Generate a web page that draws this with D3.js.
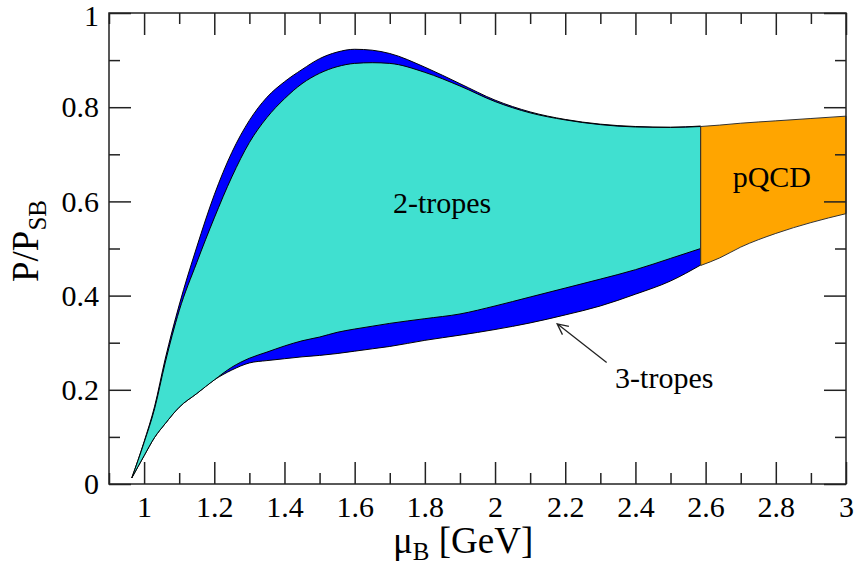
<!DOCTYPE html>
<html>
<head>
<meta charset="utf-8">
<script src="https://cdn.jsdelivr.net/npm/d3@7"></script>
<style>
  html, body { margin: 0; padding: 0; background: #fff; }
  svg text { font-family: "Liberation Serif", "Times New Roman", serif; fill: #000; }
</style>
</head>
<body>
<svg id="chart" width="859" height="564"></svg>
<script>
// Baryon chemical potential grid (GeV) shared by the polytrope bands
const muBand = [0.965, 1.0, 1.03, 1.06, 1.1, 1.15, 1.2, 1.25, 1.3, 1.35, 1.4, 1.45, 1.5, 1.55,
                1.6, 1.65, 1.7, 1.8, 1.9, 2.0, 2.1, 2.2, 2.3, 2.4, 2.5, 2.586];

// 3-tropes envelope, P/P_SB
const p3Upper = [0.013, 0.09, 0.165, 0.265, 0.38, 0.503, 0.614, 0.704, 0.772, 0.821, 0.854, 0.880, 0.903, 0.917,
                 0.923, 0.921, 0.914, 0.885, 0.850, 0.815, 0.790, 0.774, 0.764, 0.759, 0.7575, 0.760];
const p3Lower = [0.013, 0.060, 0.099, 0.128, 0.163, 0.192, 0.221, 0.242, 0.257, 0.262, 0.266, 0.270, 0.273, 0.277,
                 0.282, 0.287, 0.292, 0.305, 0.316, 0.328, 0.342, 0.359, 0.378, 0.403, 0.431, 0.465];

// 2-tropes envelope, P/P_SB
const p2Upper = [0.013, 0.088, 0.16, 0.257, 0.368, 0.47, 0.565, 0.652, 0.725, 0.778, 0.818, 0.850, 0.872, 0.886,
                 0.893, 0.8945, 0.893, 0.874, 0.845, 0.812, 0.788, 0.773, 0.763, 0.758, 0.757, 0.759];
const p2Lower = [0.013, 0.060, 0.099, 0.128, 0.163, 0.192, 0.221, 0.248, 0.267, 0.280, 0.293, 0.304, 0.312, 0.322,
                 0.329, 0.335, 0.341, 0.351, 0.361, 0.378, 0.397, 0.416, 0.435, 0.455, 0.479, 0.500];

// Perturbative QCD band
const muPqcd = [2.586, 2.64, 2.7, 2.8, 2.9, 3.0];
const pPqcdUpper = [0.759, 0.762, 0.766, 0.771, 0.776, 0.781];
const pPqcdLower = [0.464, 0.480, 0.503, 0.532, 0.555, 0.574];

// Axis ticks
const xMajorTicks = [1, 1.2, 1.4, 1.6, 1.8, 2, 2.2, 2.4, 2.6, 2.8, 3];
const xMinorTicks = [0.9, 1.1, 1.3, 1.5, 1.7, 1.9, 2.1, 2.3, 2.5, 2.7, 2.9];
const yMajorTicks = [0, 0.2, 0.4, 0.6, 0.8, 1];
const yMinorTicks = [0.1, 0.3, 0.5, 0.7, 0.9];

const W = 859, H = 564;
const margin = { left: 109, right: 13, top: 13, bottom: 80 };
const svg = d3.select("#chart");

const x = d3.scaleLinear().domain([0.9, 3]).range([margin.left, W - margin.right]);
const y = d3.scaleLinear().domain([0, 1]).range([H - margin.bottom, margin.top]);

// Filled bands
function band(mu, lo, hi) {
  const rows = mu.map((m, i) => ({ m, lo: lo[i], hi: hi[i] }));
  return d3.area()
    .x(d => x(d.m)).y0(d => y(d.lo)).y1(d => y(d.hi))
    .curve(d3.curveMonotoneX)(rows);
}

const bands = svg.append("g");
bands.append("path").attr("d", band(muBand, p3Lower, p3Upper))
  .attr("fill", "#0000ff").attr("stroke", "#000").attr("stroke-width", 1).attr("stroke-linejoin", "round");
bands.append("path").attr("d", band(muBand, p2Lower, p2Upper))
  .attr("fill", "#40e0d0").attr("stroke", "#000").attr("stroke-width", 1).attr("stroke-linejoin", "round");
bands.append("path").attr("d", band(muPqcd, pPqcdLower, pPqcdUpper))
  .attr("fill", "#ffa500").attr("stroke", "#333").attr("stroke-width", 1).attr("stroke-linejoin", "round");

// Frame with inward ticks on all four sides
const tickColor = "#222";
function styleAxis(g) {
  g.select(".domain").remove();
  g.selectAll(".tick line").attr("stroke", tickColor).attr("stroke-width", 1.5);
  g.selectAll("text").attr("font-size", 30).attr("font-family", "Liberation Serif");
}
const fmt = d => d3.format("~g")(d);

svg.append("g").attr("transform", `translate(0,${y(0)})`)
  .call(d3.axisBottom(x).tickValues(xMajorTicks).tickSize(-22).tickPadding(12).tickFormat(fmt)).call(styleAxis);
svg.append("g").attr("transform", `translate(0,${y(0)})`)
  .call(d3.axisBottom(x).tickValues(xMinorTicks).tickSize(-11).tickFormat("")).call(styleAxis);
svg.append("g").attr("transform", `translate(0,${y(1)})`)
  .call(d3.axisTop(x).tickValues(xMajorTicks).tickSize(-22).tickFormat("")).call(styleAxis);
svg.append("g").attr("transform", `translate(0,${y(1)})`)
  .call(d3.axisTop(x).tickValues(xMinorTicks).tickSize(-11).tickFormat("")).call(styleAxis);

const yAxisG = svg.append("g").attr("transform", `translate(${x(0.9)},0)`)
  .call(d3.axisLeft(y).tickValues(yMajorTicks).tickSize(-22).tickPadding(10).tickFormat(fmt)).call(styleAxis);
// keep the top label inside the canvas
yAxisG.selectAll(".tick").filter(d => d === 1).select("text").attr("y", 3);
svg.append("g").attr("transform", `translate(${x(0.9)},0)`)
  .call(d3.axisLeft(y).tickValues(yMinorTicks).tickSize(-11).tickFormat("")).call(styleAxis);
svg.append("g").attr("transform", `translate(${x(3)},0)`)
  .call(d3.axisRight(y).tickValues(yMajorTicks).tickSize(-22).tickFormat("")).call(styleAxis);
svg.append("g").attr("transform", `translate(${x(3)},0)`)
  .call(d3.axisRight(y).tickValues(yMinorTicks).tickSize(-11).tickFormat("")).call(styleAxis);

svg.append("rect")
  .attr("x", x(0.9)).attr("y", y(1))
  .attr("width", x(3) - x(0.9)).attr("height", y(0) - y(1))
  .attr("fill", "none").attr("stroke", tickColor).attr("stroke-width", 1.5);

// Region labels
svg.append("text").attr("x", x(1.709)).attr("y", y(0.576)).attr("font-size", 30).text("2-tropes");
svg.append("text").attr("x", x(2.677)).attr("y", y(0.631)).attr("font-size", 30).text("pQCD");
svg.append("text").attr("x", x(2.342)).attr("y", y(0.204)).attr("font-size", 30).text("3-tropes");

// Arrow pointing at the 3-tropes band
const tail = [x(2.318), y(0.258)], tip = [x(2.177), y(0.340)];
const ang = Math.atan2(tip[1] - tail[1], tip[0] - tail[0]);
const headLen = 12, headAng = 0.45;
const arrow = d3.path();
arrow.moveTo(tail[0], tail[1]); arrow.lineTo(tip[0], tip[1]);
arrow.moveTo(tip[0] - headLen * Math.cos(ang - headAng), tip[1] - headLen * Math.sin(ang - headAng));
arrow.lineTo(tip[0], tip[1]);
arrow.lineTo(tip[0] - headLen * Math.cos(ang + headAng), tip[1] - headLen * Math.sin(ang + headAng));
svg.append("path").attr("d", arrow.toString()).attr("fill", "none")
  .attr("stroke", "#222").attr("stroke-width", 1.3);

// Axis titles
const xt = svg.append("text").attr("x", 393).attr("y", 553).attr("font-size", 37);
xt.append("tspan").text("μ");
xt.append("tspan").attr("font-size", 25).attr("dy", 7).text("B");
xt.append("tspan").attr("dy", -7).text(" [GeV]");

const yt = svg.append("text").attr("transform", "translate(38,282) rotate(-90)").attr("font-size", 37);
yt.append("tspan").text("P/P");
yt.append("tspan").attr("font-size", 25).attr("dy", 8).text("SB");
</script>
</body>
</html>
